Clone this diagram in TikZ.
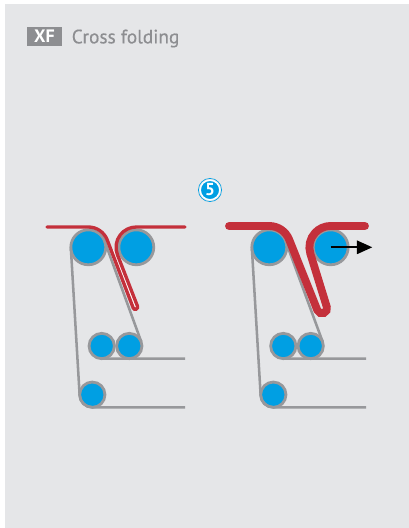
\documentclass[tikz,border=0pt]{standalone}
\usepackage{fontspec}
\setmainfont{PT Sans}
\newfontfamily\titlefont[FakeBold=0.5]{PT Sans}
\usetikzlibrary{arrows.meta}
\definecolor{panelgrey}{HTML}{E5E6E8}
\definecolor{beltgrey}{HTML}{97989B}
\definecolor{rollblue}{HTML}{009FE3}
\definecolor{webred}{HTML}{C4303B}
\definecolor{tagrey}{HTML}{8D8E91}
\begin{document}
\begin{tikzpicture}[x=0.75pt,y=-0.75pt,
  bigroll/.style={circle,draw=beltgrey,fill=rollblue,line width=2.1pt,inner sep=0pt,outer sep=0pt,minimum size=26.2pt},
  smallroll/.style={bigroll,minimum size=19pt},
  belt/.style={draw=beltgrey,line width=1.9pt},
  thinweb/.style={draw=webred,line width=2.5pt,line cap=round},
  thickweb/.style={draw=webred,line width=5.9pt,line cap=round}]
\useasboundingbox (0,0) rectangle (409,528);
\fill[panelgrey] (5,4) rectangle (409,528);
\node[fill=tagrey,text=white,font=\bfseries\fontsize{13.5}{14}\selectfont,minimum width=26.2pt,minimum height=14pt,inner sep=0pt] (tag) at (44.5,36.5) {XF};
\node[right=0pt,inner sep=0pt,text=tagrey,font=\titlefont\fontsize{14.5}{16}\selectfont] (title) at (71.5,38.5) {Cross folding};
% step number
\node[circle,fill=rollblue,draw=white,line width=1pt,inner sep=0pt,minimum size=14.6pt,text=white,font=\bfseries\fontsize{13}{13}\selectfont] (five) at (210,190) {5};
\draw[rollblue,line width=0.5pt] (five) circle[radius=11.6];
% left, rollers
\coordinate (endA) at (185,407.4);
\coordinate (endB) at (185,358.7);
\node[bigroll] (rollA) at (88.3,247.3) {};
\node[bigroll] (rollB) at (136.3,247.3) {};
\node[smallroll] (rollC) at (101.7,346) {};
\node[smallroll] (rollD) at (129.3,346) {};
\node[smallroll] (rollE) at (92.3,394.7) {};
\draw[belt] (rollA.183.5) -- (rollE.183.5) arc[start angle=176.5, end angle=90, radius=12.7] -- (endA);
\draw[belt] (rollC.south) -- (endB);
\draw[belt] (rollA.20) -- (rollD.20);
% left, web
\draw[white,line width=1.6pt] (112.5,250) -- (135.3,307);
\draw[thinweb] (47,227) -- (88.3,227) arc[start angle=-90, end angle=-22, radius=20.3] -- (133.2,307.9)
  arc[start angle=157, end angle=-22, radius=2.3] -- (117.5,254.9)
  arc[start angle=158, end angle=270, radius=20.3] -- (185,227);
% right, rollers
\coordinate (endC) at (366,407.4);
\coordinate (endD) at (366,358.7);
\node[bigroll] (rollF) at (269.3,247.3) {};
\node[bigroll] (rollG) at (330.7,247.3) {};
\node[smallroll] (rollH) at (283.3,346) {};
\node[smallroll] (rollI) at (310.7,346) {};
\node[smallroll] (rollJ) at (273.3,394.7) {};
\draw[belt] (rollF.183.5) -- (rollJ.183.5) arc[start angle=176.5, end angle=90, radius=12.7] -- (endC);
\draw[belt] (rollH.south) -- (endD);
\draw[belt] (rollF.20) -- (rollI.20);
% right, web
\draw[thickweb] (229,226) -- (269.3,226) arc[start angle=-90, end angle=-22, radius=21.3] -- (317.4,310.3)
  arc[start angle=157, end angle=-17, radius=5] -- (310.3,253.5)
  arc[start angle=163, end angle=270, radius=21.3] -- (365,226);
% pull
\coordinate (pull) at (372.3,247.3);
\draw[line width=1.4pt,-{Triangle[length=11.5pt,width=10pt]}] (rollG.center) -- (pull);
\end{tikzpicture}
\end{document}
